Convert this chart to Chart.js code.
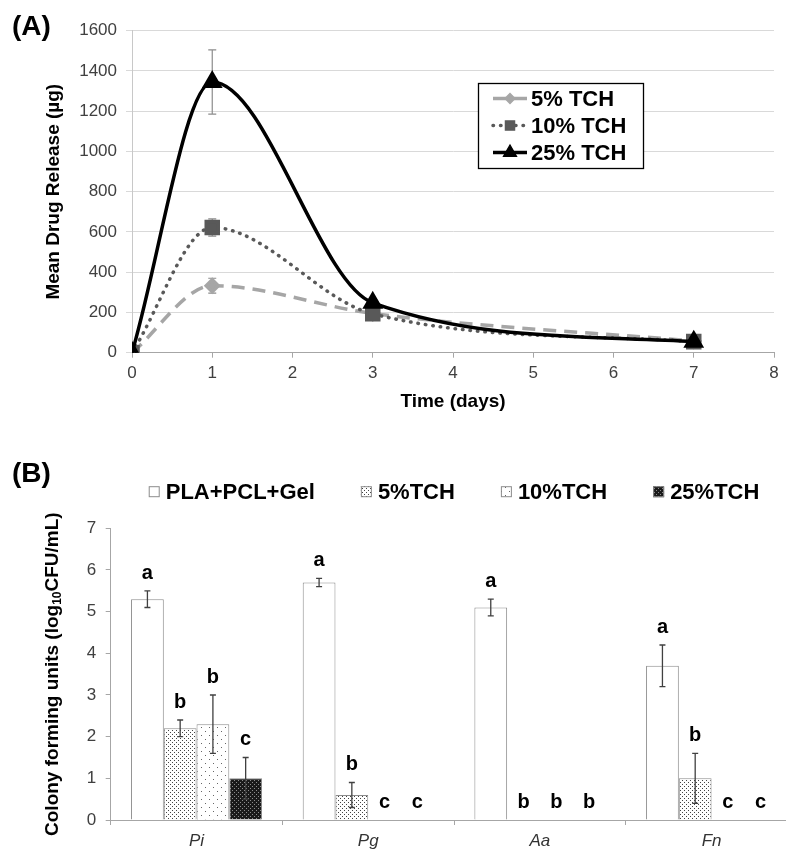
<!DOCTYPE html>
<html>
<head>
<meta charset="utf-8">
<script src="https://cdn.jsdelivr.net/npm/chart.js@4.4.0/dist/chart.umd.min.js"></script>
<style>
  html, body { margin: 0; padding: 0; background: #fff; overflow: hidden; }
  #wrap { position: relative; width: 786px; height: 853px; overflow: hidden; }
  #chartA { position: absolute; left: 0; top: 0; }
  #chartB { position: absolute; left: 0; top: 430px; }
  .panel { position: absolute; font: bold 28px/28px "Liberation Sans", Arial, sans-serif; color: #000; }
</style>
</head>
<body>
<div id="wrap">
  <canvas id="chartA" width="786" height="420"></canvas>
  <canvas id="chartB" width="800" height="423"></canvas>
  <div class="panel" style="left:12px;top:12px">(A)</div>
  <div class="panel" style="left:12px;top:459px">(B)</div>
</div>
<script>
const FONT = '"Liberation Sans", Arial, sans-serif'
Chart.defaults.font.family = FONT
Chart.defaults.color = '#404040'

// ---- (A) drug release data
const days = [0, 1, 3, 7]
const release5 = [0, 333, 195, 58]
const release10 = [0, 622, 193, 55]
const release25 = [0, 1345, 248, 55]
const err5 = [0, 37, 0, 0]
const err10 = [0, 43, 0, 0]
const err25 = [0, 160, 0, 0]
const seriesA = ['5% TCH', '10% TCH', '25% TCH']
const errsA = [err5, err10, err25]

// ---- (B) colony forming units data
const bacteria = ['Pi', 'Pg', 'Aa', 'Fn']
const groupsB = ['PLA+PCL+Gel', '5%TCH', '10%TCH', '25%TCH']
const cfuCtrl = [5.3, 5.7, 5.1, 3.7]
const cfu5 = [2.2, 0.6, 0, 1.0]
const cfu10 = [2.3, 0, 0, 0]
const cfu25 = [1.0, 0, 0, 0]
const errCtrl = [0.2, 0.1, 0.2, 0.5]
const err5B = [0.2, 0.3, 0, 0.6]
const err10B = [0.7, 0, 0, 0]
const err25B = [0.5, 0, 0, 0]
const lettersCtrl = ['a', 'a', 'a', 'a']
const letters5 = ['b', 'b', 'b', 'b']
const letters10 = ['b', 'c', 'b', 'c']
const letters25 = ['c', 'c', 'b', 'c']
const errsB = [errCtrl, err5B, err10B, err25B]
const lettersB = [lettersCtrl, letters5, letters10, letters25]

function pts (ys) {
  return days.map((d, i) => ({ x: d, y: ys[i] }))
}

// error bars for panel A, drawn under the markers
const errorBarsA = {
  id: 'errorBarsA',
  beforeDatasetsDraw (chart) {
    const { ctx, scales: { x, y } } = chart
    ctx.save()
    ctx.strokeStyle = '#8c8c8c'
    ctx.lineWidth = 1.2
    chart.data.datasets.forEach((ds, i) => {
      ds.data.forEach((p, j) => {
        const e = errsA[i][j]
        if (!e) return
        const px = x.getPixelForValue(p.x)
        const t = y.getPixelForValue(p.y + e)
        const b = y.getPixelForValue(p.y - e)
        ctx.beginPath()
        ctx.moveTo(px, t); ctx.lineTo(px, b)
        ctx.moveTo(px - 4, t); ctx.lineTo(px + 4, t)
        ctx.moveTo(px - 4, b); ctx.lineTo(px + 4, b)
        ctx.stroke()
      })
    })
    ctx.restore()
  }
}

// boxed legend inside the plot of panel A
const legendA = {
  id: 'legendA',
  afterDraw (chart) {
    const { ctx } = chart
    ctx.save()
    ctx.fillStyle = '#fff'
    ctx.fillRect(478.5, 83.5, 165, 85)
    ctx.strokeStyle = '#000'
    ctx.lineWidth = 1.3
    ctx.strokeRect(478.5, 83.5, 165, 85)
    const rows = [98.5, 125.5, 152.5]
    const sizes = [5, 6.5, 7.5]
    chart.data.datasets.forEach((ds, i) => {
      const yy = rows[i]
      ctx.save()
      ctx.strokeStyle = ds.borderColor
      ctx.lineWidth = ds.borderWidth
      ctx.lineCap = ds.borderCapStyle || 'butt'
      ctx.setLineDash(ds.borderDash || [])
      ctx.beginPath()
      ctx.moveTo(493, yy); ctx.lineTo(527, yy)
      ctx.stroke()
      ctx.restore()
      ctx.fillStyle = ds.pointBackgroundColor
      ctx.strokeStyle = ds.pointBorderColor
      Chart.helpers.drawPoint(ctx, { pointStyle: ds.pointStyle, radius: sizes[i], rotation: 0, borderWidth: 1 }, 510, yy)
      ctx.fillStyle = '#000'
      ctx.font = 'bold 22px ' + FONT
      ctx.textBaseline = 'middle'
      ctx.fillText(ds.label, 531, yy + 1)
    })
    ctx.restore()
  }
}

new Chart(document.getElementById('chartA'), {
  type: 'line',
  data: {
    datasets: [
      {
        label: seriesA[0], data: pts(release5), order: 3,
        borderColor: '#a6a6a6', borderWidth: 3.5, borderDash: [13, 8],
        pointStyle: 'rectRot', pointRadius: 6,
        pointBackgroundColor: '#a6a6a6', pointBorderColor: '#a6a6a6'
      },
      {
        label: seriesA[1], data: pts(release10), order: 2,
        borderColor: '#595959', borderWidth: 3.5, borderDash: [0.5, 7], borderCapStyle: 'round',
        pointStyle: 'rect', pointRadius: 8.5,
        pointBackgroundColor: '#595959', pointBorderColor: '#595959'
      },
      {
        label: seriesA[2], data: pts(release25), order: 1,
        borderColor: '#000', borderWidth: 3.5,
        pointStyle: 'triangle', pointRadius: 8.5,
        pointBackgroundColor: '#000', pointBorderColor: '#000'
      }
    ]
  },
  options: {
    responsive: false,
    animation: false,
    cubicInterpolationMode: 'monotone',
    tension: 0.4,
    layout: { padding: { left: 0, top: 30.7, right: 6, bottom: 0 } },
    plugins: { legend: { display: false }, tooltip: { enabled: false } },
    scales: {
      x: {
        type: 'linear', min: 0, max: 8,
        ticks: { stepSize: 1, padding: 5, font: { size: 17 }, color: '#404040' },
        grid: { drawOnChartArea: false, tickLength: 5, color: '#a6a6a6' },
        border: { color: '#a6a6a6' },
        title: { display: true, text: 'Time (days)', color: '#000', font: { size: 19, weight: 'bold' }, padding: { top: 0, bottom: 7 } },
        afterFit: (s) => { s.height = 67.3 }
      },
      y: {
        min: 0, max: 1600,
        ticks: { stepSize: 200, padding: 9, font: { size: 17 }, color: '#404040', callback: (v) => String(v) },
        grid: { color: '#d9d9d9', tickLength: 6 },
        border: { color: '#c8c8c8' },
        title: { display: true, text: 'Mean Drug Release (µg)', color: '#000', font: { size: 19, weight: 'bold' }, padding: { top: 42, bottom: 0 } },
        afterFit: (s) => { s.width = 132 }
      }
    }
  },
  plugins: [errorBarsA, legendA]
})

// ---- fill patterns for panel B
const ctxB = document.getElementById('chartB').getContext('2d')
function makePattern (w, h, bg, fg, dots) {
  const c = document.createElement('canvas')
  c.width = w; c.height = h
  const g = c.getContext('2d')
  g.fillStyle = bg
  g.fillRect(0, 0, w, h)
  g.fillStyle = fg
  dots.forEach(([x, y]) => g.fillRect(x, y, 1, 1))
  return ctxB.createPattern(c, 'repeat')
}
const fillsB = [
  '#ffffff',
  makePattern(4, 4, '#ffffff', '#444444', [[0, 0], [2, 2]]),
  makePattern(8, 8, '#ffffff', '#666666', [[1, 1], [5, 5]]),
  makePattern(4, 4, '#1a1a1a', '#8c8c8c', [[0, 0], [2, 2]])
]

const errorBarsB = {
  id: 'errorBarsB',
  afterDatasetsDraw (chart) {
    const { ctx, scales: { y } } = chart
    ctx.save()
    ctx.strokeStyle = '#404040'
    ctx.lineWidth = 1.3
    ctx.fillStyle = '#000'
    ctx.font = 'bold 20px ' + FONT
    ctx.textAlign = 'center'
    ctx.textBaseline = 'alphabetic'
    chart.data.datasets.forEach((ds, i) => {
      const meta = chart.getDatasetMeta(i)
      ds.data.forEach((v, j) => {
        const bar = meta.data[j]
        const e = errsB[i][j]
        const px = bar.x
        let top = y.getPixelForValue(v)
        if (e) {
          top = y.getPixelForValue(v + e)
          const b = y.getPixelForValue(v - e)
          ctx.beginPath()
          ctx.moveTo(px, top); ctx.lineTo(px, b)
          ctx.moveTo(px - 3, top); ctx.lineTo(px + 3, top)
          ctx.moveTo(px - 3, b); ctx.lineTo(px + 3, b)
          ctx.stroke()
        }
        ctx.fillText(lettersB[i][j], px, top - 12)
      })
    })
    ctx.restore()
  }
}

const legendB = {
  id: 'legendB',
  afterDraw (chart) {
    const { ctx, chartArea } = chart
    ctx.save()
    ctx.font = 'bold 22px ' + FONT
    ctx.textBaseline = 'middle'
    const box = 11, gap = 6, spacing = 46
    const widths = chart.data.datasets.map(ds => ctx.measureText(ds.label).width)
    const total = widths.reduce((a, w) => a + box + gap + w, 0) + spacing * (widths.length - 1)
    let xx = (chartArea.left + chartArea.right) / 2 - total / 2
    const yy = 61.7
    chart.data.datasets.forEach((ds, i) => {
      ctx.fillStyle = ds.backgroundColor
      ctx.fillRect(xx, yy - box / 2, box, box)
      ctx.strokeStyle = '#8c8c8c'
      ctx.lineWidth = 1
      ctx.strokeRect(xx + 0.5, yy - box / 2 + 0.5, box - 1, box - 1)
      ctx.fillStyle = '#000'
      ctx.fillText(ds.label, xx + box + gap, yy + 1)
      xx += box + gap + widths[i] + spacing
    })
    ctx.restore()
  }
}

// y title with subscript
const yTitleB = {
  id: 'yTitleB',
  afterDraw (chart) {
    const { ctx, chartArea } = chart
    const parts = [
      { t: 'Colony forming units (log', f: 'bold 19px ' + FONT, dy: 0 },
      { t: '10', f: 'bold 12px ' + FONT, dy: 5 },
      { t: 'CFU/mL)', f: 'bold 19px ' + FONT, dy: 0 }
    ]
    ctx.save()
    ctx.translate(51.7, (chartArea.top + chartArea.bottom) / 2)
    ctx.rotate(-Math.PI / 2)
    ctx.fillStyle = '#000'
    ctx.textBaseline = 'middle'
    let total = 0
    parts.forEach(p => { ctx.font = p.f; p.w = ctx.measureText(p.t).width; total += p.w })
    let xx = -total / 2
    parts.forEach(p => {
      ctx.font = p.f
      ctx.fillText(p.t, xx, p.dy + 1)
      xx += p.w
    })
    ctx.restore()
  }
}

new Chart(ctxB, {
  type: 'bar',
  data: {
    labels: bacteria,
    datasets: [cfuCtrl, cfu5, cfu10, cfu25].map((vals, i) => ({
      label: groupsB[i],
      data: vals,
      backgroundColor: fillsB[i],
      borderColor: '#8c8c8c',
      borderWidth: 1,
      barPercentage: 1,
      categoryPercentage: 0.763
    }))
  },
  options: {
    responsive: false,
    animation: false,
    layout: { padding: { left: 0, top: 98.3, right: 2.6, bottom: 0 } },
    plugins: { legend: { display: false }, tooltip: { enabled: false } },
    scales: {
      x: {
        ticks: { padding: 6.5, font: { size: 17, style: 'italic' }, color: '#333' },
        grid: { drawOnChartArea: false, tickLength: 5, offset: true, color: '#a6a6a6' },
        border: { color: '#a6a6a6' },
        afterFit: (s) => { s.height = 33 }
      },
      y: {
        min: 0, max: 7,
        ticks: { stepSize: 1, padding: 9.5, font: { size: 17 }, color: '#404040' },
        grid: { drawOnChartArea: false, tickLength: 5, color: '#a6a6a6' },
        border: { color: '#a6a6a6' },
        afterFit: (s) => { s.width = 110.7 }
      }
    }
  },
  plugins: [errorBarsB, legendB, yTitleB]
})
</script>
</body>
</html>
